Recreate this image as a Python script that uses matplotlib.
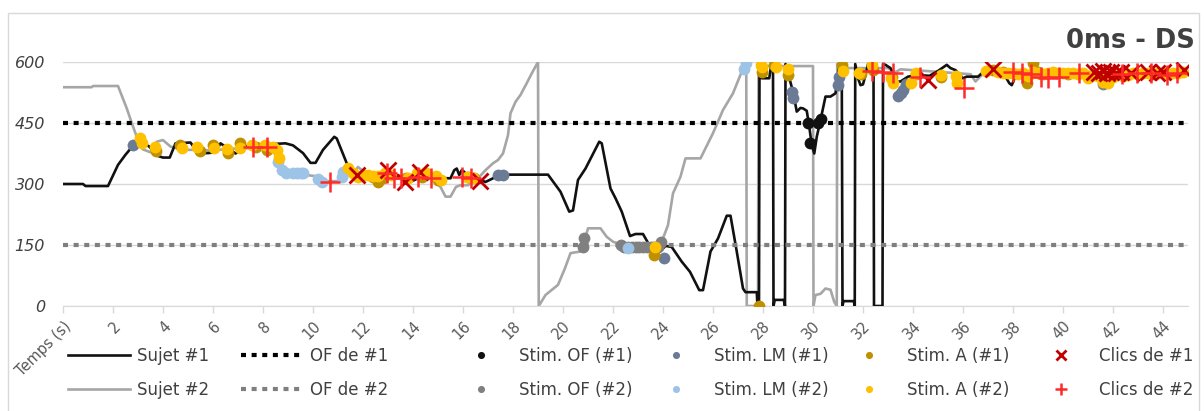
import matplotlib
matplotlib.use("Agg")
import matplotlib.pyplot as plt
from matplotlib.patches import Rectangle

plt.rcParams['font.family'] = ['DejaVu Sans']

# ---- data (time in s, value) ----
s1_t = [0, 0.8, 0.9, 1.8, 2.2, 2.5, 2.8, 3.1, 3.45, 3.75, 4.0, 4.27, 4.5, 5.1, 5.4, 5.8, 6.1, 6.3, 6.9, 7.4, 8.9,
        9.2, 9.6, 9.9, 10.1, 10.4, 10.85, 10.95, 11.35, 11.6, 12.1, 12.6, 13.2, 13.6, 13.9, 14.3, 14.9, 15.5,
        15.65, 15.75, 15.85, 15.95, 16.05, 16.15, 16.4, 16.7, 16.9, 17.2, 17.4, 17.7, 19.4, 19.9, 20.25, 20.4,
        20.6, 20.9, 21.45, 21.55, 21.9, 22.1, 22.35, 22.68, 22.9, 23.2, 23.45, 23.7, 23.95, 24.1, 24.35, 24.75,
        25.08, 25.45, 25.6, 25.9, 26.2, 26.55, 26.7, 26.95, 27.2, 27.3, 27.75, 27.78, 27.84, 27.86, 27.95, 28.25,
        28.32, 28.4, 28.42, 28.47, 28.83, 28.88, 28.9, 29.0, 29.2, 29.35, 29.5, 29.6, 29.75, 29.85, 29.95, 30.05,
        30.15, 30.3, 30.5, 30.7, 30.9, 31.05, 31.15, 31.18, 31.22, 31.63, 31.67, 31.69, 31.8, 31.9, 32.0, 32.1,
        32.2, 32.42, 32.44, 32.78, 32.8, 32.9, 33.1, 33.35, 33.5, 33.8, 34.2, 34.66, 35.0, 35.35, 35.5, 35.7,
        36.0, 36.15, 36.6, 36.9, 37.2, 37.6, 37.85, 37.95, 38.1, 38.5, 39.0, 40.0, 41.0, 42.0, 43.0, 44.0, 45.0]
s1_v = [300, 300, 295, 295, 347, 372, 394, 405, 392, 370, 365, 365, 400, 402, 376, 376, 378, 400, 375, 395, 400,
        395, 376, 352, 352, 384, 416, 412, 351, 334, 322, 325, 330, 310, 305, 317, 315, 314,
        334, 338, 322, 334, 330, 320, 315, 310, 305, 314, 322, 323, 323, 281, 232, 235,
        310, 338, 404, 400, 289, 265, 232, 172, 177, 177, 150, 138, 138, 148, 145, 109,
        84, 39, 39, 134, 166, 222, 222, 134, 43, 34, 34, 0, 0, 590, 560, 560,
        590, 590, 0, 15, 15, 0, 595, 572, 527, 478, 487, 486, 480, 441, 396, 375,
        416, 457, 515, 515, 523, 590, 590, 0, 12, 12, 0, 595, 560, 543, 545, 568,
        595, 595, 0, 0, 595, 593, 585, 552, 552, 564, 568, 566, 578, 593, 585, 580,
        560, 564, 564, 580, 580, 575, 548, 543, 565, 572, 570, 575, 572, 574, 575, 573, 575]

s2_t = [0, 1.15, 1.2, 2.2, 2.55, 2.75, 2.95, 3.2, 3.5, 3.75, 4.0, 4.3, 4.8, 5.5, 6.0, 6.5, 7.4, 8.4, 8.6, 8.75,
        8.9, 9.6, 10.3, 10.5, 11.1, 11.3, 11.7, 11.8, 12.1, 13.0, 14.5, 14.7, 15.1, 15.3, 15.5, 15.72, 15.9,
        16.2, 16.6, 16.9, 17.2, 17.4, 17.6, 17.8, 17.9, 18.1, 18.3, 18.55, 18.75, 19.0, 19.03, 19.3, 19.8, 20.08,
        20.3, 20.7, 20.8, 21.0, 21.5, 21.75, 22.0, 22.3, 23.9, 24.2, 24.4, 24.7, 24.9, 25.5, 26.0, 26.4, 26.8,
        27.2, 27.33, 27.35, 27.8, 27.82, 28.0, 30.0, 30.02, 30.1, 30.3, 30.5, 30.7, 30.85, 30.95, 30.97, 31.3,
        33.0, 33.3, 33.5, 34.5, 36.3, 36.5, 36.7, 36.9, 38.0, 40.0, 41.4, 41.6, 41.8, 43.0, 45.0]
s2_v = [538, 538, 541, 541, 486, 450, 416, 385, 378, 404, 408, 392, 384, 384, 382, 386, 388, 388, 355, 334,
        326, 323, 318, 307, 307, 318, 334, 342, 326, 320, 320, 314, 293, 269, 269, 293, 297,
        297, 314, 334, 351, 359, 375, 420, 474, 502, 519, 548, 572, 600, 0, 27, 52, 93,
        130, 134, 146, 191, 191, 170, 158, 152, 150, 199, 277, 318, 363, 363, 425, 482, 523,
        584, 600, 0, 0, 598, 590, 590, 0, 27, 30, 43, 40, 10, 0, 595, 585,
        585, 575, 582, 578, 570, 552, 565, 575, 575, 572, 570, 545, 570, 573, 572]

of1_value = 450
of2_value = 150

stim_of1_t = [29.8, 29.88, 30.2, 30.3]
stim_of1_v = [449, 400, 449, 461]
stim_of2_t = [20.8, 20.85, 22.3, 22.45, 22.6, 22.75, 22.9, 23.05, 23.2, 23.35, 23.5, 23.65, 23.8, 23.9, 41.6]
stim_of2_v = [146, 166, 150, 146, 145, 144, 144, 144, 144, 144, 144, 145, 146, 158, 545]
stim_lm1_t = [2.8, 17.4, 17.6, 24.05, 29.15, 29.2, 31.0, 31.05, 33.4, 33.5, 33.6, 33.7]
stim_lm1_v = [396, 322, 323, 117, 527, 511, 543, 564, 517, 523, 530, 545]
stim_lm2_t = [8.6, 8.75, 8.9, 9.2, 9.35, 9.5, 9.6, 10.2, 10.35, 11.15, 11.2, 22.6, 27.25, 27.3]
stim_lm2_v = [355, 334, 326, 328, 327, 326, 326, 312, 306, 318, 330, 142, 584, 598]
stim_a1_t = [3.7, 4.68, 5.47, 6.0, 6.6, 7.08, 7.7, 8.15, 12.4, 12.6, 12.8, 13.7, 14.35, 15.0, 16.2, 16.45, 23.65,
             27.84, 27.95, 28.45, 29.0, 31.15, 31.9, 32.4, 33.15, 34.1, 35.1, 37.2, 37.6, 38.55, 38.8, 39.0,
             40.2, 41.0, 41.8]
stim_a1_v = [380, 396, 380, 396, 376, 400, 390, 384, 318, 306, 315, 314, 318, 310, 318, 314, 125,
             0, 576, 593, 568, 593, 570, 580, 564, 570, 564, 580, 575, 548, 597, 575,
             570, 565, 560]
stim_a2_t = [3.08, 3.15, 3.68, 4.75, 5.35, 6.05, 6.55, 7.08, 7.55, 8.08, 8.4, 8.55, 8.65, 11.4, 11.6, 11.8,
             12.0, 12.2, 12.4, 12.6, 12.88, 13.1, 13.8, 14.15, 14.5, 14.9, 15.1, 16.15, 16.4, 23.68, 27.9,
             27.95, 28.5, 29.0, 31.2, 31.85, 32.35, 33.1, 33.2, 33.9, 34.1, 35.1, 35.7, 35.75, 36.9, 37.4,
             37.6, 37.8, 38.0, 38.2, 38.4, 38.6, 38.8, 39.0, 39.2, 39.4, 39.6, 39.8, 40.0, 40.2, 40.4, 40.6,
             40.8, 41.0, 41.2, 41.4, 41.6, 41.8, 42.0, 42.2, 42.4, 42.6, 42.8, 43.0, 43.2, 43.4, 43.6, 43.8,
             44.0, 44.2, 44.4, 44.6, 44.8]
stim_a2_v = [412, 400, 392, 389, 392, 388, 386, 389, 396, 396, 390, 384, 363, 339, 326, 318,
             322, 322, 320, 320, 326, 322, 314, 326, 326, 320, 310, 318, 314, 146, 593,
             588, 588, 584, 578, 572, 593, 560, 548, 548, 572, 568, 566, 548, 578, 576,
             574, 572, 572, 570, 574, 566, 576, 574, 570, 572, 575, 574, 572, 573, 574, 570,
             572, 560, 568, 566, 552, 548, 562, 570, 566, 568, 572, 570, 572, 574, 570, 572,
             572, 570, 574, 572, 575]
clic1_t = [11.75, 13.0, 13.68, 14.28, 16.68, 34.6, 37.2, 41.25, 41.45, 41.6, 41.75, 41.9, 42.1, 42.3, 42.7,
           43.4, 43.75, 44.0, 44.85]
clic1_v = [322, 334, 306, 330, 308, 556, 584, 576, 574, 578, 572, 576, 574, 576, 574,
           576, 574, 576, 580]
clic2_t = [7.6, 8.15, 10.68, 12.95, 13.25, 13.5, 14.2, 14.7, 15.95, 16.3, 32.35, 32.8, 33.2, 34.3, 36.05,
           38.0, 38.35, 38.7, 39.1, 39.4, 39.85, 40.65, 42.35, 42.95, 43.5, 44.15, 44.55]
clic2_v = [390, 392, 306, 326, 314, 314, 318, 314, 318, 314, 578, 576, 572, 562, 535,
           576, 572, 570, 564, 560, 564, 572, 570, 572, 572, 568, 572]

x_ticks = list(range(0, 45, 2))
x_labels = ['Temps (s)'] + [str(t) for t in x_ticks[1:]]
y_ticks = [0, 150, 300, 450, 600]
title = '0ms - DS'

W, H = 1204, 411
fig = plt.figure(figsize=(W / 100, H / 100), dpi=100)
ax = fig.add_axes([63 / W, 1 - 306 / H, 1125 / W, 244 / H])

ax.plot(s2_t, s2_v, color='#a6a6a6', lw=1.9, zorder=2, label='Sujet #2')
ax.plot(s1_t, s1_v, color='#111111', lw=1.9, zorder=3, label='Sujet #1')
ax.axhline(of1_value, color='#000000', lw=3, ls=(0, (1.2, 1.35)), zorder=4, label='OF de #1')
ax.axhline(of2_value, color='#7f7f7f', lw=3, ls=(0, (1.2, 1.35)), zorder=4, label='OF de #2')

ms = 8.5
dots = [
    (stim_of1_t, stim_of1_v, '#111111', 'Stim. OF (#1)'),
    (stim_of2_t, stim_of2_v, '#808080', 'Stim. OF (#2)'),
    (stim_lm1_t, stim_lm1_v, '#6b7b95', 'Stim. LM (#1)'),
    (stim_lm2_t, stim_lm2_v, '#9dc3e6', 'Stim. LM (#2)'),
    (stim_a1_t, stim_a1_v, '#bf9000', 'Stim. A (#1)'),
    (stim_a2_t, stim_a2_v, '#ffc000', 'Stim. A (#2)'),
]
for z, (t, v, c, lab) in enumerate(dots):
    ax.plot(t, v, ls='none', marker='o', ms=ms, color=c, mec='none', zorder=5 + z * 0.1, label=lab)
ax.plot(clic1_t, clic1_v, ls='none', marker='x', ms=12, mew=2, color='#c00000', zorder=7, label='Clics de #1')
ax.plot(clic2_t, clic2_v, ls='none', marker='+', ms=15, mew=1.8, color='#ff2a2a', zorder=7.1, label='Clics de #2')

ax.set_xlim(0, 45)
ax.set_ylim(0, 600)
ax.set_yticks(y_ticks)
ax.set_yticklabels([str(v) for v in y_ticks], fontsize=11.5, style='italic', color='#404040')
ax.set_xticks(x_ticks)
ax.set_xticklabels(x_labels, rotation=45, ha='right', va='top', rotation_mode='anchor',
                   fontsize=10.5, color='#595959')
ax.tick_params(axis='y', length=0, pad=13)
ax.tick_params(axis='x', length=5, width=1, color='#d9d9d9', pad=4)
for s in ['top', 'right', 'left']:
    ax.spines[s].set_visible(False)
ax.spines['bottom'].set_color('#d9d9d9')
ax.grid(axis='y', color='#d9d9d9', lw=1)
ax.set_axisbelow(True)

fig.text(1195 / W, 1 - 41 / H, title, ha='right', va='center', fontsize=18.5, weight='bold', color='#404040')
fig.patches.append(Rectangle((8 / W, -0.05), 1191 / W, 1.05 - 13 / H, transform=fig.transFigure,
                             fill=False, ec='#d9d9d9', lw=1))

# legend: one small legend per column so columns land where the original has them
h, l = ax.get_legend_handles_labels()
hd = dict(zip(l, h))
columns = [('Sujet #1', 'Sujet #2'), ('OF de #1', 'OF de #2'), ('Stim. OF (#1)', 'Stim. OF (#2)'),
           ('Stim. LM (#1)', 'Stim. LM (#2)'), ('Stim. A (#1)', 'Stim. A (#2)'), ('Clics de #1', 'Clics de #2')]
col_x = [68, 241, 450, 645, 838, 1030]
for cx, labs in zip(col_x, columns):
    leg = fig.legend([hd[k] for k in labs], labs, loc='center left', bbox_to_anchor=(cx / W, 1 - 373 / H),
                     frameon=False, fontsize=12, handlelength=3.7, handletextpad=0.42, borderpad=0,
                     borderaxespad=0, labelspacing=0.95, markerscale=0.6, labelcolor='#404040')

fig.savefig('out.png', dpi=100)
